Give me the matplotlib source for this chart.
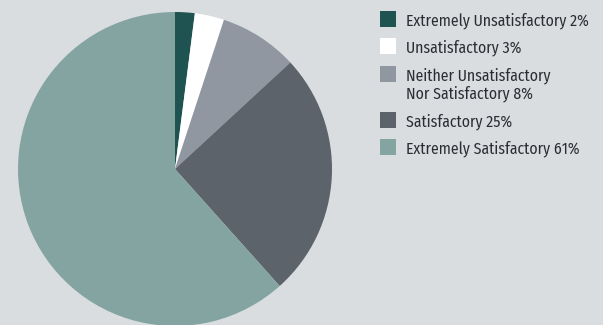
import matplotlib
matplotlib.use("Agg")
import matplotlib.pyplot as plt
from matplotlib.patches import Rectangle
from matplotlib import font_manager

labels = ["Extremely Unsatisfactory 2%", "Unsatisfactory 3%",
          "Neither Unsatisfactory\nNor Satisfactory 8%", "Satisfactory 25%",
          "Extremely Satisfactory 61%"]
shares = [2, 3, 8, 25, 61]
colors = ["#1f5352", "#ffffff", "#9097a0", "#5c636b", "#84a4a2"]

bg = "#d9dde0"
installed = {f.name for f in font_manager.fontManager.ttflist}
font = next(f for f in ["Fira Sans Condensed", "Sofia Sans Semi Condensed",
                        "Encode Sans Semi Condensed", "Open Sans"] if f in installed)

W, H = 603, 325
fig = plt.figure(figsize=(W / 100, H / 100), dpi=100, facecolor=bg)

# pie: centre (175, 169) px, radius 157 px
cx, cy, r = 175, 169, 157
ax = fig.add_axes([(cx - r) / W, (H - cy - r) / H, 2 * r / W, 2 * r / H])
ax.pie(shares, colors=colors, startangle=90, counterclock=False,
       wedgeprops=dict(linewidth=0))
ax.set_xlim(-1, 1)
ax.set_ylim(-1, 1)
ax.set_aspect("equal")
ax.axis("off")

# legend: square top (px); text baseline 14 px below it, 18 px per line
row_tops = [11, 38, 66, 112, 139]
for top, lab, col in zip(row_tops, labels, colors):
    fig.patches.append(Rectangle((380 / W, (H - top - 16) / H), 16 / W, 16 / H,
                                 transform=fig.transFigure, facecolor=col,
                                 edgecolor="none"))
    for i, line in enumerate(lab.split("\n")):
        fig.text(406 / W, (H - top - 14 - 18 * i) / H, line, fontsize=11.3,
                 family=font, color="#2a2e32", va="baseline", ha="left")

fig.savefig("out.png", dpi=100, facecolor=bg)
